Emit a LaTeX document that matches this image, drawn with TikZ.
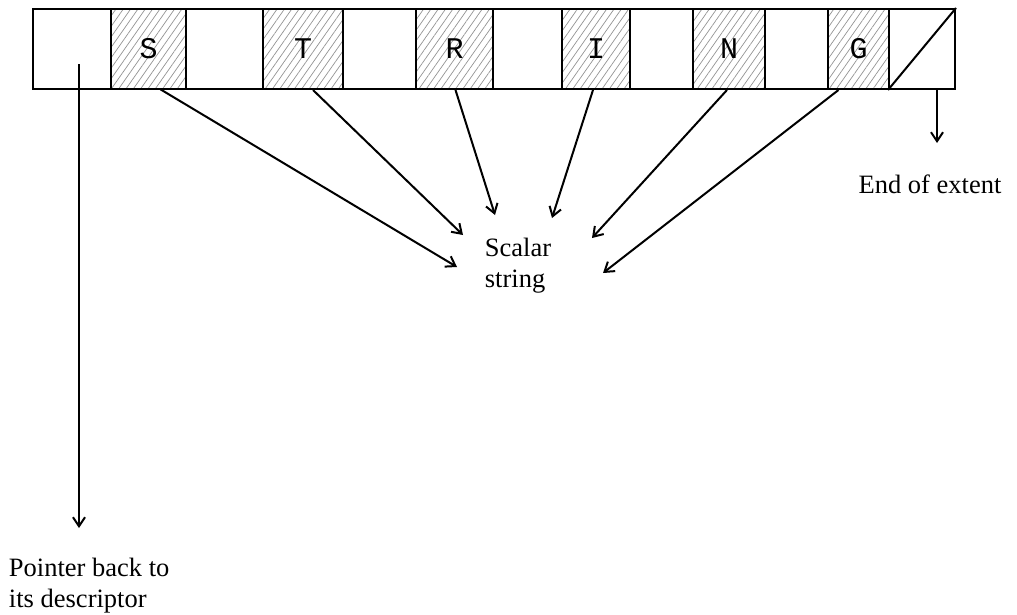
\documentclass[tikz,border=0pt]{standalone}
\usepackage{fontspec}
\setmainfont{Liberation Serif}
\setmonofont{Liberation Mono}
\usetikzlibrary{arrows.meta,patterns.meta,positioning}
\begin{document}
\begin{tikzpicture}[x=1pt,y=-1pt,line width=2pt,
  every node/.style={inner sep=0pt},
  cell/.style={draw,minimum height=80pt,font=\ttfamily\fontsize{30}{30}\selectfont},
  hatched/.style={pattern={Lines[angle=55,distance=6pt,line width=0.7pt]},pattern color=gray!85},
  ptr/.style={-{Straight Barb[length=9pt,width=12pt,line width=2pt]}},
  note/.style={font=\fontsize{26.5}{31}\selectfont,align=left}]
\useasboundingbox (0,0) rectangle (1017,614);
% the extent, cell by cell
\foreach \n/\x/\w/\v in {0/72/78/,2/224.5/77/,4/379.5/73/,6/527.5/69/,8/661.5/63/,10/796.5/63/,12/922/66/}
  \node[cell,minimum width=\w pt] (c\n) at (\x,49) {\v};
\foreach \n/\x/\w/\v in {1/148.5/75/S,3/303/80/T,5/454.5/77/R,7/596/68/I,9/729/72/N,11/858.5/61/G}
  \node[cell,hatched,minimum width=\w pt] (c\n) at (\x,49) {\v};
\draw (c12.south west) -- (c12.north east);

\node[note] (scalar) at (518,266) {Scalar\\string};
\node[note] (eoe) at (930,184) {End of extent};
\node[note,anchor=west] (back) at (8,586) {Pointer back to\\its descriptor};

% characters point into the scalar string
\foreach \n/\dx/\tx/\ty in {1/12/457/267,3/10/463/235,5/1/495/215,7/-3/552/218,9/-2/592/238,11/-20/603/273}
 {\coordinate (t\n) at (\tx,\ty);
  \draw[ptr] ([xshift=\dx pt]c\n.south) -- (t\n);}

\coordinate (p0) at (79,64);
\coordinate (p1) at (79,528);
\draw[ptr] (p0) -- (p1);
\coordinate (e1) at (937,143);
\draw[ptr] ([xshift=15pt]c12.south) -- (e1);
\end{tikzpicture}
\end{document}
